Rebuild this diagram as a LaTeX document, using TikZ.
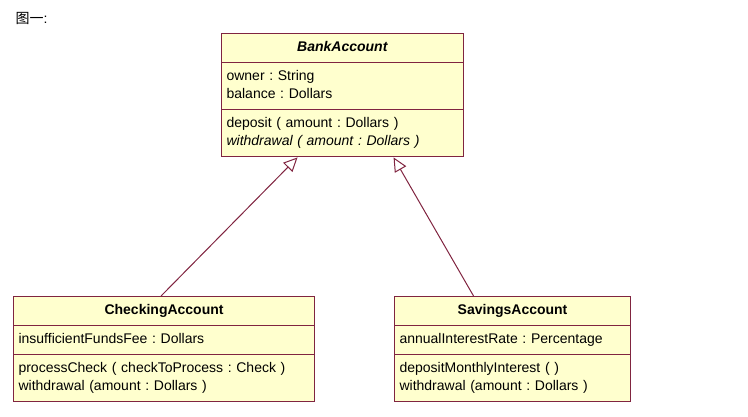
\documentclass[tikz,border=0pt]{standalone}
\usepackage{fontspec}
\setmainfont{Liberation Sans}
\newfontfamily\cjk{Noto Sans CJK SC}
\usepackage{tikz}
\usetikzlibrary{shapes.multipart,arrows.meta}
\definecolor{umlfill}{RGB}{255,255,206}
\definecolor{umlline}{RGB}{128,36,64}
\frenchspacing
\newcommand{\umltitle}[2]{\makebox[#1][c]{\strut\textbf{#2}}}

\begin{document}
\begin{tikzpicture}[
    x=1pt, y=1pt,
    umlclass/.style={rectangle split, rectangle split parts=3, draw=umlline, line width=1.1pt,
        fill=umlfill, align=left, inner xsep=5pt, inner ysep=5pt,
        font=\fontsize{14}{18}\selectfont, anchor=north west},
    inherit/.style={draw=umlline, line width=1pt, -{Triangle[open, length=14pt, width=13pt]}}
]
\useasboundingbox (0,0) rectangle (748,-416);

\node[anchor=west, font=\fontsize{14}{18}\selectfont] (caption) at (12,-18) {{\cjk 图一}:};

\node[umlclass, text width=232pt] (bank) at (221,-33) {
    \umltitle{232pt}{\textit{BankAccount}}
    \nodepart{two}\strut owner : String\\\strut balance : Dollars
    \nodepart{three}\strut deposit ( amount : Dollars )\\\strut\textit{withdrawal ( amount : Dollars )}};

\node[umlclass, text width=291pt] (checking) at (13,-296) {
    \umltitle{291pt}{CheckingAccount}
    \nodepart{two}\strut insufficientFundsFee : Dollars
    \nodepart{three}\strut processCheck ( checkToProcess : Check )\\\strut withdrawal (amount : Dollars )};

\node[umlclass, text width=226pt] (savings) at (394,-296) {
    \umltitle{226pt}{SavingsAccount}
    \nodepart{two}\strut annualInterestRate : Percentage
    \nodepart{three}\strut depositMonthlyInterest ( )\\\strut withdrawal (amount : Dollars )};

\draw[inherit] ([xshift=-3pt]checking.north) -- ([xshift=-45pt]bank.south);
\draw[inherit] ([xshift=-39pt]savings.north) -- ([xshift=51pt]bank.south);

\end{tikzpicture}
\end{document}
